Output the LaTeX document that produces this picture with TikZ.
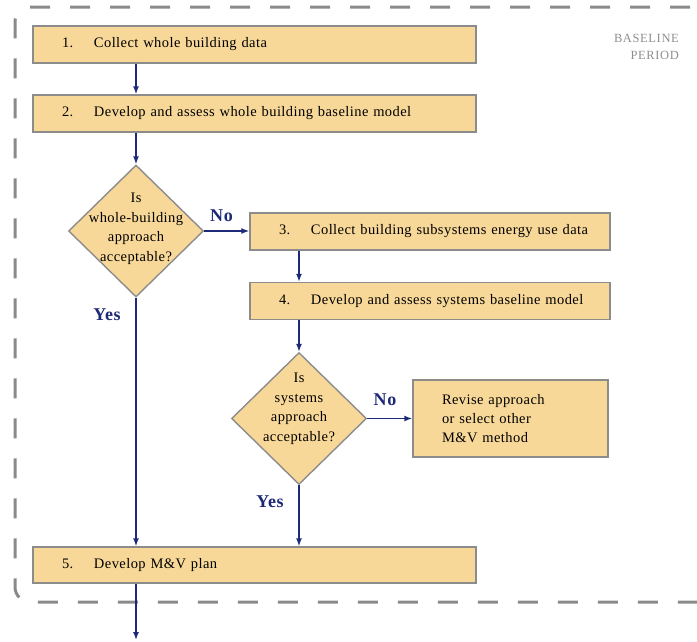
\documentclass[tikz,border=0pt]{standalone}
\usepackage{fontspec}
\setmainfont{Liberation Serif}
\newfontfamily\boxfont[LetterSpace=3]{Liberation Serif}
\newfontfamily\diafont[LetterSpace=3]{Liberation Serif}
\newfontfamily\lblfont[LetterSpace=3]{Liberation Serif}
\newfontfamily\perfont[LetterSpace=5]{Liberation Serif}
\usetikzlibrary{shapes.geometric,arrows.meta}
\definecolor{boxfill}{HTML}{F8D898}
\definecolor{boxline}{HTML}{8C8C8C}
\definecolor{navy}{HTML}{1E2A78}
\definecolor{dashgray}{HTML}{8A8A8A}
\definecolor{pergray}{HTML}{8E8E8E}
\tikzset{
  stepbox/.style={draw=boxline, fill=boxfill, line width=1.4pt, rectangle,
    inner xsep=29pt, inner ysep=0pt, align=left, anchor=center,
    font=\boxfont\fontsize{14.5}{19}\selectfont},
  diabox/.style={draw=boxline, fill=boxfill, line width=1.4pt, diamond,
    inner sep=0pt, minimum width=135pt, minimum height=132pt},
  diatext/.style={align=center, inner sep=0pt,
    font=\diafont\fontsize{14.5}{19.5}\selectfont},
  arr/.style={draw=navy, line width=1.5pt, -{Latex[length=8pt,width=6pt]}},
  lbl/.style={text=navy, inner sep=0pt, font=\lblfont\bfseries\fontsize{18}{20}\selectfont},
  border/.style={draw=dashgray, line width=3pt, dash pattern=on 20pt off 20pt,
    dash phase=5pt, rounded corners=15pt}
}
\newcommand{\num}[1]{\makebox[32pt][l]{#1}}
\begin{document}
\begin{tikzpicture}[x=1pt,y=-1pt]
\useasboundingbox (0,0) rectangle (697,641);
% dashed border
\draw[border] (725,7) -- (15,7) -- (15,602) -- (725,602);
% period label
\node[text=pergray, align=right, anchor=north east, inner sep=0pt,
  font=\perfont\fontsize{12.5}{17}\selectfont] (per) at (679,34) {BASELINE\\PERIOD};
% boxes
\node[stepbox, minimum width=443pt, minimum height=37pt, text width=385pt] (b1) at (254.5,44.5) {\num{1.}Collect whole building data};
\node[stepbox, minimum width=443pt, minimum height=37pt, text width=385pt] (b2) at (254.5,113.5) {\num{2.}Develop and assess whole building baseline model};
\node[diabox] (d1) at (136,231) {};
\node[diatext] (d1t) at (136,229) {Is\\whole-building\\approach\\acceptable?};
\node[stepbox, minimum width=360pt, minimum height=37pt, text width=302pt] (b3) at (430,231.5) {\mbox{\num{3.}Collect building subsystems energy use data}};
\node[stepbox, minimum width=360pt, minimum height=37pt, text width=302pt] (b4) at (430,301) {\mbox{\num{4.}Develop and assess systems baseline model}};
\node[diabox] (d2) at (299,418.5) {};
\node[diatext] (d2t) at (299,409) {Is\\systems\\approach\\acceptable?};
\node[stepbox, minimum width=195pt, minimum height=77pt, text width=137pt] (b6) at (510.5,418.5) {Revise approach\\or select other\\M\&V method};
\node[stepbox, minimum width=443pt, minimum height=36pt, text width=385pt] (b5) at (254.5,565) {\num{5.}Develop M\&V plan};
\coordinate (end) at (136,640);
% labels
\node[lbl] (no1) at (221.5,216) {No};
\node[lbl] (yes1) at (107,315) {Yes};
\node[lbl] (no2) at (385,400) {No};
\node[lbl] (yes2) at (270,502) {Yes};
% connectors
\draw[arr] (b1.south -| d1) -- (b2.north -| d1);
\draw[arr] (b2.south -| d1) -- (d1.north);
\draw[arr] (d1.east) -- (d1.east -| b3.west);
\draw[arr] (b3.south -| d2) -- (b4.north -| d2);
\draw[arr] (b4.south -| d2) -- (d2.north);
\draw[arr] (d2.east) -- (d2.east -| b6.west);
\draw[arr] (d1.south) -- (b5.north -| d1);
\draw[arr] (d2.south) -- (b5.north -| d2);
\draw[arr] (b5.south -| d1) -- (end);
\end{tikzpicture}
\end{document}
